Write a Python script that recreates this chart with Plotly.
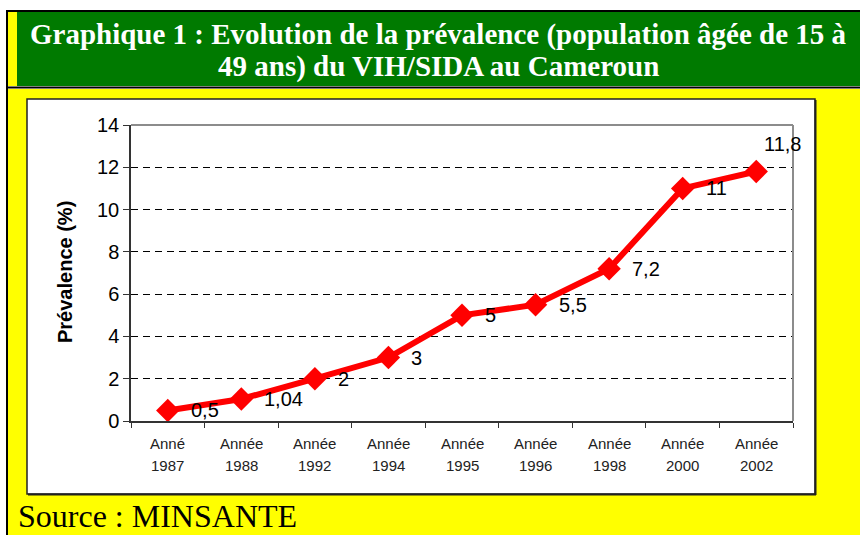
import plotly.graph_objects as go

# ---- data ----
annee_mot = ["Anné", "Année", "Année", "Année", "Année", "Année", "Année", "Année", "Année"]
annees = ["1987", "1988", "1992", "1994", "1995", "1996", "1998", "2000", "2002"]
prevalence = [0.5, 1.04, 2, 3, 5, 5.5, 7.2, 11, 11.8]
labels = ["0,5", "1,04", "2", "3", "5", "5,5", "7,2", "11", "11,8"]
y_ticks = [0, 2, 4, 6, 8, 10, 12, 14]

W, H = 860, 535
L, R, T, B = 131, 793, 125, 421  # plot area in pixels


def px(x):
    return (x - L) / (R - L)


def py(y):
    return (B - y) / (B - T)


cats = [a + " " + y for a, y in zip(annee_mot, annees)]

fig = go.Figure()
fig.add_trace(go.Scatter(
    x=cats, y=prevalence, mode="lines+markers",
    line=dict(color="#FF0000", width=6),
    marker=dict(symbol="diamond", size=18, color="#FF0000"),
    cliponaxis=False, showlegend=False, hoverinfo="skip",
))

shapes = []


def rect(x0, y0, x1, y1, fill, line=None, lw=0, layer="below"):
    shapes.append(dict(type="rect", xref="paper", yref="paper",
                       x0=px(x0), x1=px(x1), y0=py(y0), y1=py(y1),
                       fillcolor=fill, layer=layer, line=dict(width=lw, color=line or fill)))


def seg(x0, y0, x1, y1, color, lw, layer="below"):
    shapes.append(dict(type="line", xref="paper", yref="paper",
                       x0=px(x0), x1=px(x1), y0=py(y0), y1=py(y1),
                       line=dict(color=color, width=lw), layer=layer))


rect(8, 89, 870, 545, "#FFFF00")
rect(17, 12, 870, 86, "#007A00")
rect(8, 12, 17, 86, "#FFFF00")
seg(6, 11, 870, 11, "black", 2)
seg(7, 10, 7, 545, "black", 2)
seg(7, 87.5, 870, 87.5, "black", 2)
rect(27, 99, 815, 494, "white", "#222222", 1.5)
seg(815.5, 100, 815.5, 495, "#222222", 2)
seg(28, 494.5, 816, 494.5, "#222222", 2)
seg(L, T, R, T, "#8C8C8C", 2, "above")
seg(R, T, R, B, "#8C8C8C", 2, "above")

serif = "Liberation Serif, Times New Roman"
sans = "Liberation Sans, Arial"

annotations = []
annotations.append(dict(
    xref="paper", yref="paper", x=px(438), y=py(34), xanchor="center", yanchor="middle",
    text="<b>Graphique 1 : Evolution de la prévalence (population âgée de 15 à</b>",
    showarrow=False, font=dict(family=serif, size=29, color="white"),
))
annotations.append(dict(
    xref="paper", yref="paper", x=px(438), y=py(66), xanchor="center", yanchor="middle",
    text="<b>49 ans) du VIH/SIDA au Cameroun</b>",
    showarrow=False, font=dict(family=serif, size=29, color="white"),
))
annotations.append(dict(
    xref="paper", yref="paper", x=px(17), y=py(535), xanchor="left", yanchor="bottom",
    text="Source : MINSANTE", showarrow=False, borderpad=0,
    font=dict(family=serif, size=32, color="black"),
))
annotations.append(dict(
    xref="paper", yref="paper", x=px(65), y=py(272), xanchor="center", yanchor="middle",
    text="<b>Prévalence (%)</b>", textangle=-90, showarrow=False,
    font=dict(family=sans, size=20, color="black"),
))
for c, a, yr in zip(cats, annee_mot, annees):
    annotations.append(dict(xref="x", yref="paper", x=c, y=py(443), text=a, showarrow=False,
                            xanchor="center", yanchor="middle",
                            font=dict(family=sans, size=15, color="#222222")))
    annotations.append(dict(xref="x", yref="paper", x=c, y=py(465), text=yr, showarrow=False,
                            xanchor="center", yanchor="middle",
                            font=dict(family=sans, size=15, color="#222222")))
for i, (c, v, t) in enumerate(zip(cats, prevalence, labels)):
    last = i == len(cats) - 1
    annotations.append(dict(xref="x", yref="y", x=c, y=v, text=t, showarrow=False,
                            xanchor="left", yanchor="middle",
                            xshift=6 if last else 21, yshift=28 if last else 0,
                            font=dict(family=sans, size=20, color="black")))

fig.update_layout(
    width=W, height=H,
    margin=dict(l=L, r=W - R, t=T, b=H - B),
    paper_bgcolor="white", plot_bgcolor="rgba(0,0,0,0)",
    shapes=shapes, annotations=annotations,
    xaxis=dict(type="category", range=[-0.5, 8.5], showticklabels=False,
               tickson="boundaries", ticks="outside", ticklen=5, tickcolor="#333333",
               showline=True, linecolor="#333333", linewidth=1.5, showgrid=False, zeroline=False),
    yaxis=dict(range=[0, 14], tickvals=y_ticks, ticks="outside", ticklen=6, tickcolor="#333333",
               showline=True, linecolor="#333333", linewidth=1.5,
               showgrid=True, gridcolor="black", griddash="7px,5px", gridwidth=1, zeroline=False,
               tickfont=dict(family=sans, size=20, color="black")),
)

fig.write_html("out.html", config={"displayModeBar": False},
               post_script="document.body.style.margin='0';")
